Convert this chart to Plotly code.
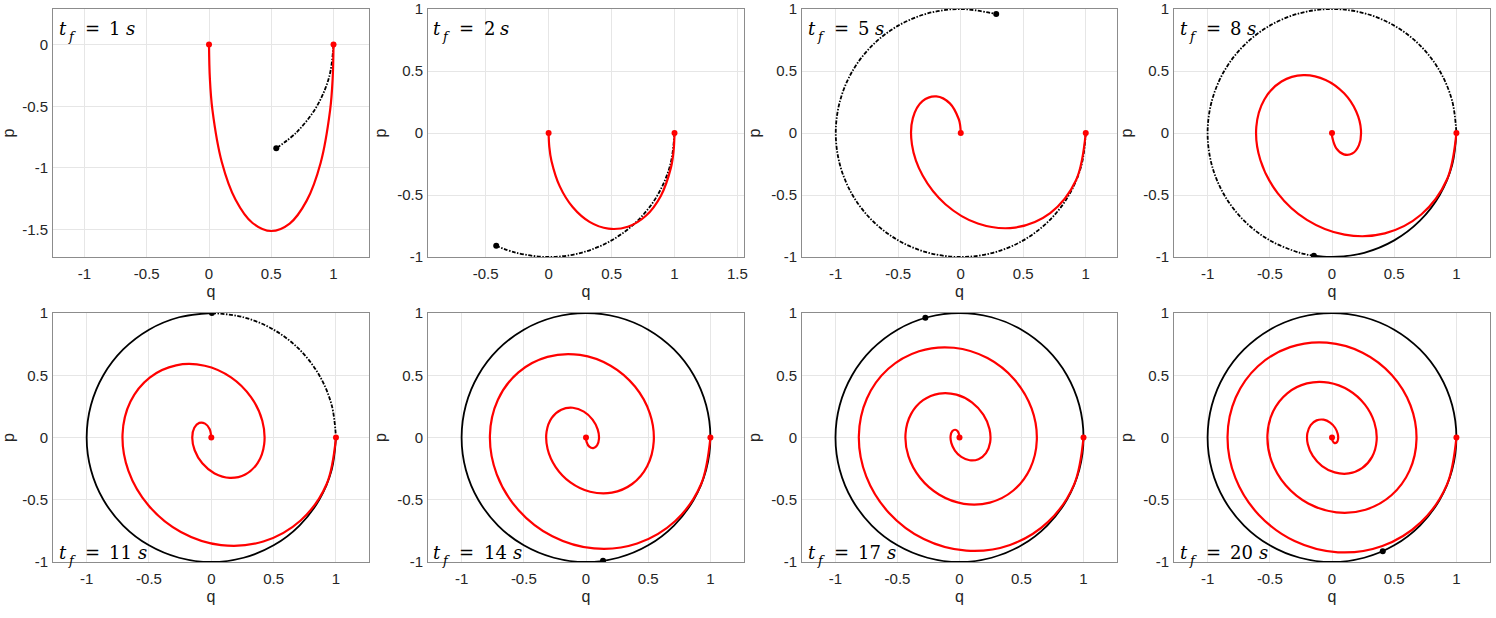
import math
import plotly.graph_objects as go

# final times of the eight runs
tf_values = [1, 2, 5, 8, 11, 14, 17, 20]

# free orbit (black): unit circle sampled every 15 deg, clockwise from (1, 0)
circle_q = [1.0, 0.9659, 0.866, 0.7071, 0.5, 0.2588, 0.0, -0.2588, -0.5, -0.7071, -0.866, -0.9659,
            -1.0, -0.9659, -0.866, -0.7071, -0.5, -0.2588, 0.0, 0.2588, 0.5, 0.7071, 0.866, 0.9659, 1.0]
circle_p = [0.0, -0.2588, -0.5, -0.7071, -0.866, -0.9659, -1.0, -0.9659, -0.866, -0.7071, -0.5, -0.2588,
            0.0, 0.2588, 0.5, 0.7071, 0.866, 0.9659, 1.0, 0.9659, 0.866, 0.7071, 0.5, 0.2588, 0.0]

# where the free orbit sits at t = tf (black dot)
free_end_q = [0.5403, -0.4161, 0.2837, -0.1455, 0.0044, 0.1367, -0.2752, 0.4081]
free_end_p = [-0.8415, -0.9093, 0.9589, -0.9894, 1.0, -0.9906, 0.9614, -0.9129]

# controlled trajectories (red), (1, 0) -> (0, 0)
q_tf1 = [1.0, 0.9929, 0.9724, 0.8969, 0.7847, 0.6479, 0.4987, 0.3496, 0.2134, 0.1020, 0.0272, 0.0070, 0.0]
p_tf1 = [0.0, -0.2799, -0.5336, -0.9580, -1.2657, -1.4514, -1.5121, -1.4472, -1.2583, -0.9496, -0.5273,
         -0.2762, 0.0]

q_tf2 = [1.0, 0.9926, 0.9711, 0.8912, 0.7726, 0.6290, 0.4750, 0.3250, 0.1925, 0.0888, 0.0227, 0.0057, 0.0]
p_tf2 = [0.0, -0.1467, -0.2812, -0.5073, -0.6677, -0.7562, -0.7715, -0.7166, -0.5992, -0.4306, -0.2252,
         -0.1140, 0.0]

q_tf5 = [1.0, 0.9221, 0.7157, 0.4340, 0.1364, -0.1230, -0.3048, -0.3903, -0.3832, -0.3063, -0.1947,
         -0.0871, -0.0164, -0.0045, 0.0]
p_tf5 = [0.0, -0.3816, -0.6463, -0.7627, -0.7298, -0.5743, -0.3434, -0.0938, 0.1200, 0.2564, 0.2949,
         0.2387, 0.1130, 0.0597, 0.0]

q_tf8 = [1.0, 0.9240, 0.7174, 0.4247, 0.1003, -0.2020, -0.4371, -0.5759, -0.6084, -0.5435, -0.4060,
         -0.2298, -0.0515, 0.0972, 0.1947, 0.2328, 0.2167, 0.1630, 0.0945, 0.0348, 0.0027, 0.0]
p_tf8 = [0.0, -0.3755, -0.6575, -0.8096, -0.8197, -0.7004, -0.4845, -0.2180, 0.0488, 0.2707, 0.4151,
         0.4664, 0.4281, 0.3199, 0.1731, 0.0231, -0.0976, -0.1660, -0.1726, -0.1233, -0.0365, 0.0]

q_tf11 = [1.0, 0.9245, 0.7164, 0.4170, 0.0785, -0.2443, -0.5035, -0.6649, -0.7121, -0.6485, -0.4943,
          -0.2826, -0.0524, 0.1583, 0.3185, 0.4090, 0.4243, 0.3725, 0.2723, 0.1483, 0.0262, -0.0723,
          -0.1335, -0.1530, -0.1364, -0.0966, -0.0502, -0.0139, 0.0]
p_tf11 = [0.0, -0.3751, -0.6667, -0.8356, -0.8644, -0.7591, -0.5465, -0.2683, 0.0262, 0.2892, 0.4817,
          0.5797, 0.5765, 0.4831, 0.3244, 0.1340, -0.0524, -0.2032, -0.2967, -0.3238, -0.2887, -0.2072,
          -0.1023, 0.0004, 0.0785, 0.1172, 0.1116, 0.0678, 0.0]

q_tf14 = [1.0, 0.9246, 0.7153, 0.4115, 0.0646, -0.2704, -0.5435, -0.7174, -0.7723, -0.7081, -0.5431,
          -0.3098, -0.0488, 0.1978, 0.3936, 0.5130, 0.5446, 0.4917, 0.3709, 0.2080, 0.0330, -0.1253,
          -0.2438, -0.3087, -0.3168, -0.2753, -0.1987, -0.1063, -0.0172, 0.0528, 0.0939, 0.1043, 0.0891,
          0.0588, 0.0265, 0.0045, 0.0]
p_tf14 = [0.0, -0.3755, -0.6732, -0.8519, -0.8912, -0.7933, -0.5815, -0.2956, 0.0158, 0.3030, 0.5234,
          0.6476, 0.6635, 0.5768, 0.4093, 0.1938, -0.0316, -0.2305, -0.3735, -0.4432, -0.4357, -0.3604,
          -0.2371, -0.0921, 0.0474, 0.1579, 0.2237, 0.2389, 0.2080, 0.1440, 0.0649, -0.0097, -0.0632,
          -0.0854, -0.0738, -0.0346, 0.0]

q_tf17 = [1.0, 0.9246, 0.7144, 0.4075, 0.0549, -0.2881, -0.5702, -0.7521, -0.8117, -0.7468, -0.5742,
          -0.3262, -0.0448, 0.2254, 0.4442, 0.5820, 0.6235, 0.5690, 0.4339, 0.2448, 0.0347, -0.1626,
          -0.3182, -0.4120, -0.4352, -0.3912, -0.2936, -0.1635, -0.0247, 0.0999, 0.1922, 0.2419, 0.2469,
          0.2134, 0.1534, 0.0821, 0.0146, -0.0372, -0.0662, -0.0718, -0.0586, -0.0356, -0.0131, -0.0007,
          0.0]
p_tf17 = [0.0, -0.3761, -0.6779, -0.8631, -0.9091, -0.8157, -0.6042, -0.3127, 0.0101, 0.3133, 0.5519,
          0.6930, 0.7208, 0.6379, 0.4639, 0.2314, -0.0202, -0.2506, -0.4259, -0.5229, -0.5325, -0.4601,
          -0.3237, -0.1500, 0.0302, 0.1879, 0.2999, 0.3528, 0.3443, 0.2823, 0.1834, 0.0686, -0.0403,
          -0.1251, -0.1739, -0.1827, -0.1560, -0.1045, -0.0432, 0.0127, 0.0504, 0.0624, 0.0479, 0.0126,
          0.0]

q_tf20 = [1.0, 0.9246, 0.7137, 0.4046, 0.0478, -0.3010, -0.5895, -0.7769, -0.8397, -0.7739, -0.5957,
          -0.3371, -0.0412, 0.2457, 0.4807, 0.6313, 0.6793, 0.6233, 0.4777, 0.2697, 0.0346, -0.1904,
          -0.3720, -0.4857, -0.5190, -0.4726, -0.3596, -0.2023, -0.0281, 0.1351, 0.2632, 0.3400, 0.3586,
          0.3220, 0.2416, 0.1349, 0.0215, -0.0798, -0.1545, -0.1944, -0.1983, -0.1713, -0.1236, -0.0674,
          -0.0150, 0.0245, 0.0457, 0.0488, 0.0379, 0.0207, 0.0056, 0.0]
p_tf20 = [0.0, -0.3766, -0.6814, -0.8712, -0.9219, -0.8317, -0.6201, -0.3245, 0.0066, 0.3213, 0.5727,
          0.7256, 0.7616, 0.6810, 0.5020, 0.2571, -0.0131, -0.2660, -0.4639, -0.5799, -0.6012, -0.5304,
          -0.3840, -0.1897, 0.0197, 0.2107, 0.3552, 0.4343, 0.4409, 0.3797, 0.2660, 0.1222, -0.0262,
          -0.1554, -0.2464, -0.2887, -0.2805, -0.2291, -0.1480, -0.0548, 0.0328, 0.1001, 0.1377, 0.1431,
          0.1202, 0.0784, 0.0300, -0.0126, -0.0394, -0.0448, -0.0289, 0.0]

ctrl_q = [q_tf1, q_tf2, q_tf5, q_tf8, q_tf11, q_tf14, q_tf17, q_tf20]
ctrl_p = [p_tf1, p_tf2, p_tf5, p_tf8, p_tf11, p_tf14, p_tf17, p_tf20]

tick_vals = [-1.5, -1, -0.5, 0, 0.5, 1, 1.5]
tick_text = ['-1.5', '-1', '-0.5', '0', '0.5', '1', '1.5']

# layout of the 2x4 grid, in pixels of the 1496x618 page
W, H = 1496, 618
col_px = [(53, 369), (428, 744), (802, 1117), (1174, 1490)]
row_px = [(9, 257), (313, 562)]
x_ranges = [[-1.253, 1.285], [-0.958, 1.552], [-1.27, 1.25], [-1.27, 1.27],
            [-1.27, 1.265], [-1.27, 1.27], [-1.27, 1.27], [-1.27, 1.27]]
y_ranges = [[-1.723, 0.289]] + [[-1.0, 1.0]] * 7

RED = '#ff0000'
BLACK = '#000000'
DASH = '4px,1.5px,1.5px,1.5px'
SANS = 'Liberation Sans, Arial, sans-serif'
SERIF = 'DejaVu Serif, serif'
ASCENT = 0.928  # DejaVu Serif ascent / em

# angle (deg, clockwise) of each circle sample, kept increasing
circle_deg = []
for q, p in zip(circle_q, circle_p):
    a = math.degrees(math.atan2(-p, q)) % 360
    if circle_deg and a < circle_deg[-1]:
        a += 360
    circle_deg.append(a)


def orbit_piece(i, a0, a1):
    """Points of the free orbit between clockwise angles a0 and a1."""
    qs, ps = [], []
    if a0 == 0:
        qs.append(circle_q[0]); ps.append(circle_p[0])
    else:
        qs.append(free_end_q[i]); ps.append(free_end_p[i])
    for q, p, a in zip(circle_q, circle_p, circle_deg):
        if a0 + 4 < a < a1 - 4:
            qs.append(q); ps.append(p)
    if a1 == 360:
        qs.append(circle_q[-1]); ps.append(circle_p[-1])
    else:
        qs.append(free_end_q[i]); ps.append(free_end_p[i])
    return qs, ps


def label_piece(text, xa, ya, row, xshift, size, below, italic):
    """One glyph group of the t_f label; 'below' = baseline offset (px) under the anchor edge."""
    return dict(text=text, xref='%s domain' % xa, yref='%s domain' % ya,
                x=0, y=1 if row == 0 else 0, xanchor='left', yanchor='top',
                xshift=xshift, yshift=1 + ASCENT * size - below, showarrow=False,
                font=dict(family=SERIF, size=size, color='#000000',
                          style='italic' if italic else 'normal'))


fig = go.Figure()
annotations = []
tick_font = dict(family=SANS, size=15, color='#262626')
title_font = dict(family=SANS, size=16, color='#262626')

for i, tf in enumerate(tf_values):
    n = i + 1
    xa, ya = ('x', 'y') if n == 1 else ('x%d' % n, 'y%d' % n)
    row, col = divmod(i, 4)

    # free orbit: covered more than once -> looks solid, once -> dash-dot
    a_end = math.degrees(math.atan2(-free_end_p[i], free_end_q[i])) % 360
    laps = int(tf // math.tau)
    if laps == 0:
        pieces = [(0, a_end, DASH)]
    elif laps == 1:
        pieces = [(0, a_end, 'solid'), (a_end, 360, DASH)]
    else:
        pieces = [(0, 360, 'solid')]
    for a0, a1, dash in pieces:
        qs, ps = orbit_piece(i, a0, a1)
        fig.add_trace(go.Scatter(x=qs, y=ps, mode='lines', xaxis=xa, yaxis=ya,
                                 line=dict(color=BLACK, width=1.8, dash=dash, shape='spline'),
                                 showlegend=False, hoverinfo='skip'))
    fig.add_trace(go.Scatter(x=[free_end_q[i]], y=[free_end_p[i]], mode='markers',
                             xaxis=xa, yaxis=ya, marker=dict(color=BLACK, size=6),
                             showlegend=False))

    # controlled trajectory
    fig.add_trace(go.Scatter(x=ctrl_q[i], y=ctrl_p[i], mode='lines', xaxis=xa, yaxis=ya,
                             line=dict(color=RED, width=2.2, shape='spline', smoothing=1.0),
                             showlegend=False))
    fig.add_trace(go.Scatter(x=[ctrl_q[i][0], ctrl_q[i][-1]], y=[ctrl_p[i][0], ctrl_p[i][-1]],
                             mode='markers', xaxis=xa, yaxis=ya,
                             marker=dict(color=RED, size=6), showlegend=False))

    x0, x1 = col_px[col]
    y0, y1 = row_px[row]
    common = dict(showline=True, mirror=True, linecolor='#8c8c8c', linewidth=1,
                  showgrid=True, gridcolor='#e6e6e6', gridwidth=1, zeroline=False,
                  ticks='', tickmode='array', tickvals=tick_vals, ticktext=tick_text,
                  tickfont=tick_font, automargin=False, fixedrange=True)
    fig.layout['xaxis' if n == 1 else 'xaxis%d' % n] = dict(
        domain=[x0 / W, x1 / W], range=x_ranges[i], anchor=ya, ticklabelstandoff=3,
        title=dict(text='q', font=title_font, standoff=4), **common)
    fig.layout['yaxis' if n == 1 else 'yaxis%d' % n] = dict(
        domain=[1 - y1 / H, 1 - y0 / H], range=y_ranges[i], anchor=xa, ticklabelstandoff=1,
        title=dict(text='p', font=title_font, standoff=6), **common)

    # t_f label: top-left inside the box on the first row, bottom-left on the second
    base = 24.3 if row == 0 else -4.0
    digits = len(str(tf))
    annotations += [
        label_piece('t', xa, ya, row, 3.5, 18, base, True),
        label_piece('f', xa, ya, row, 12.5, 13, base + 6.5, True),
        label_piece('=', xa, ya, row, 29.5, 18, base, False),
        label_piece(str(tf), xa, ya, row, 54, 18, base, False),
        label_piece('s', xa, ya, row, 70.5 + 12 * (digits - 1), 18, base, True),
    ]

fig.update_layout(width=W, height=H, margin=dict(l=0, r=0, t=0, b=0),
                  paper_bgcolor='white', plot_bgcolor='white',
                  annotations=annotations, showlegend=False)

fig.write_html('out.html', config={'displayModeBar': False},
               post_script="document.body.style.margin = '0';")
